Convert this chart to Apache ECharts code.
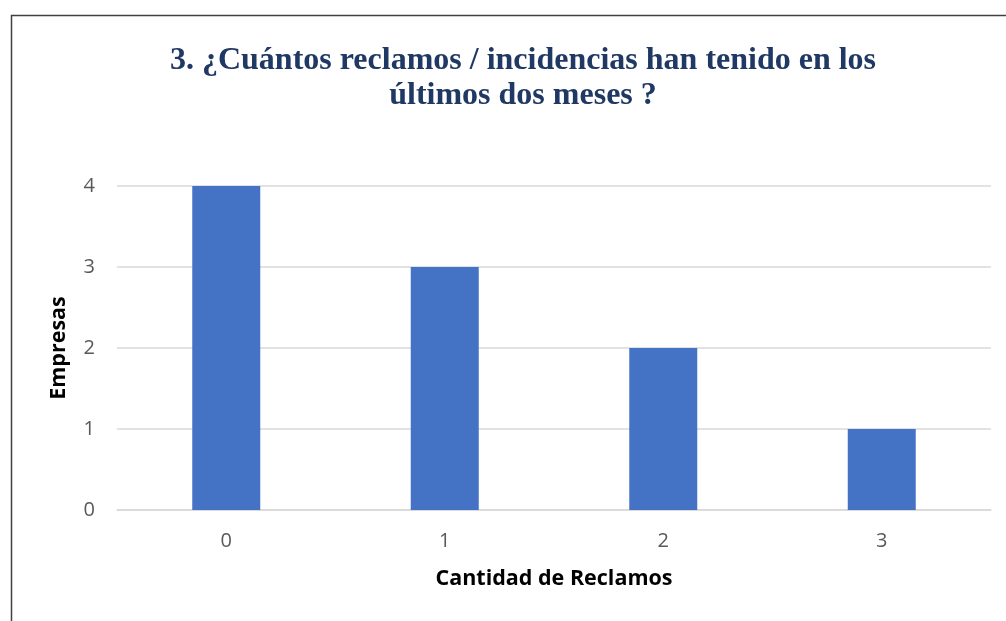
<!DOCTYPE html>
<html>
<head>
<meta charset="utf-8">
<script src="https://cdn.jsdelivr.net/npm/echarts@6/dist/echarts.min.js"></script>
<style>
  html, body { margin: 0; padding: 0; background: #fff; }
  #chart { width: 1006px; height: 621px; }
</style>
</head>
<body>
<div id="chart"></div>
<script>
const categories = ['0', '1', '2', '3']
const empresas = [4, 3, 2, 1]
const yTicks = [0, 1, 2, 3, 4]

const chart = echarts.init(document.getElementById('chart'))

const option = {
  backgroundColor: '#fff',
  graphic: [
    {
      type: 'rect',
      left: 9,
      top: 13,
      shape: { width: 1100, height: 700 },
      style: { fill: 'none', stroke: '#404040', lineWidth: 1.5 },
      silent: true
    }
  ],
  title: {
    text: '3. ¿Cuántos reclamos / incidencias han tenido en los\núltimos dos meses ?',
    left: 518,
    top: 38,
    textAlign: 'center',
    textStyle: {
      fontFamily: '"Liberation Serif", "Times New Roman", serif',
      fontWeight: 'bold',
      fontSize: 32,
      lineHeight: 35,
      color: '#203864'
    }
  },
  grid: {
    left: 117,
    right: 15,
    top: 186,
    bottom: 111
  },
  xAxis: {
    type: 'category',
    data: categories,
    name: 'Cantidad de Reclamos',
    nameLocation: 'middle',
    nameGap: 58,
    nameTextStyle: {
      fontFamily: '"Open Sans", "Noto Sans", sans-serif',
      fontWeight: 'bold',
      fontSize: 21.5,
      color: '#000'
    },
    axisLine: { lineStyle: { color: '#d9d9d9', width: 1.5 } },
    axisTick: { show: false },
    axisLabel: {
      margin: 21,
      fontFamily: '"Open Sans", "Noto Sans", sans-serif',
      fontSize: 20,
      color: '#595959'
    }
  },
  yAxis: {
    type: 'value',
    min: yTicks[0],
    max: yTicks[yTicks.length - 1],
    interval: 1,
    name: 'Empresas',
    nameLocation: 'middle',
    nameGap: 47,
    nameRotate: 90,
    nameTextStyle: {
      fontFamily: '"Open Sans", "Noto Sans", sans-serif',
      fontWeight: 'bold',
      fontSize: 21.5,
      color: '#000'
    },
    axisLine: { show: false },
    axisTick: { show: false },
    splitLine: { lineStyle: { color: '#d9d9d9', width: 1.5 } },
    axisLabel: {
      margin: 22,
      fontFamily: '"Open Sans", "Noto Sans", sans-serif',
      fontSize: 20,
      color: '#595959'
    }
  },
  series: [
    {
      name: 'Empresas',
      type: 'bar',
      data: empresas,
      barWidth: 68,
      itemStyle: { color: '#4472C4' }
    }
  ]
}

chart.setOption(option)
</script>
</body>
</html>
